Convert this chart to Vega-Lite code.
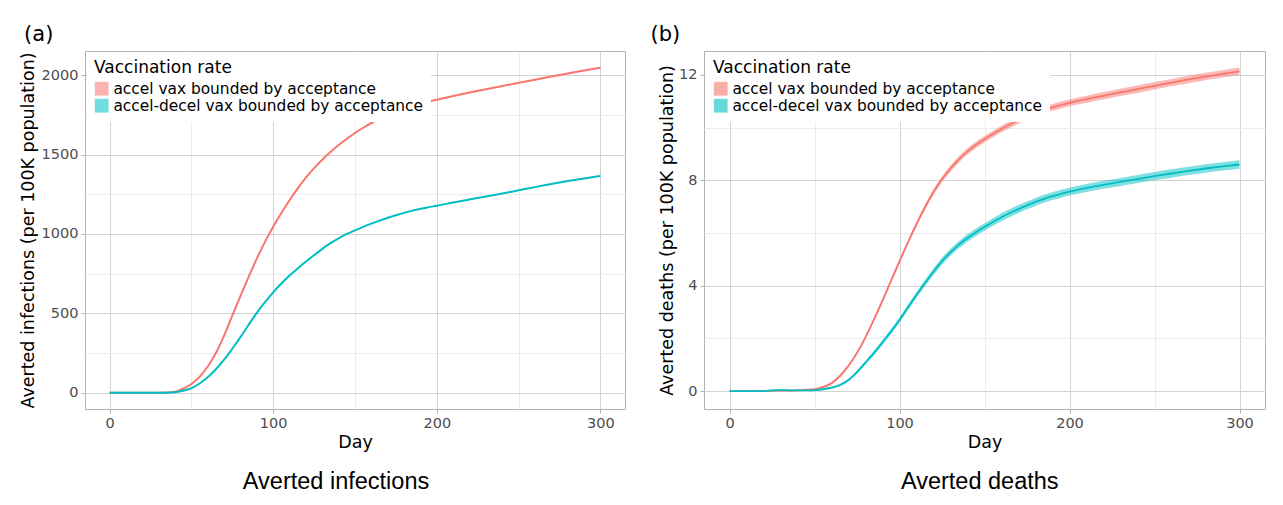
{
  "$schema": "https://vega.github.io/schema/vega-lite/v6.json",
  "background": "white",
  "padding": {"left": 18, "top": 23, "right": 5, "bottom": 5},
  "resolve": {"scale": {"color": "independent"}, "legend": {"color": "independent"}},
  "config": {
    "font": "DejaVu Sans",
    "view": {"stroke": "#b3b3b3", "strokeWidth": 1},
    "axis": {"domain": false, "labelFont": "DejaVu Sans", "labelFontSize": 14.5, "labelColor": "#4d4d4d", "titleFont": "DejaVu Sans", "titleFontSize": 17.5, "titleFontWeight": "normal", "titleColor": "#000000", "tickColor": "#b3b3b3", "tickSize": 4, "labelPadding": 3, "titlePadding": 4},
    "legend": {"orient": "top-left", "offset": 2, "fillColor": "white", "padding": 7, "title": "Vaccination rate", "titleFont": "DejaVu Sans", "titleFontSize": 17, "titleFontWeight": "normal", "titleColor": "#000000", "titlePadding": 4, "labelFont": "DejaVu Sans", "labelFontSize": 15.4, "labelColor": "#000000", "labelLimit": 450, "symbolType": "square", "symbolSize": 190, "symbolStrokeWidth": 0, "rowPadding": 0},
    "concat": {"spacing": 24}
  },
  "datasets": {
    "inf": [
      {"d":0,"s":"accel vax bounded by acceptance","v":0},{"d":5,"s":"accel vax bounded by acceptance","v":0},{"d":10,"s":"accel vax bounded by acceptance","v":0},{"d":15,"s":"accel vax bounded by acceptance","v":0},{"d":20,"s":"accel vax bounded by acceptance","v":0},{"d":25,"s":"accel vax bounded by acceptance","v":0},{"d":30,"s":"accel vax bounded by acceptance","v":0},{"d":35,"s":"accel vax bounded by acceptance","v":1},{"d":40,"s":"accel vax bounded by acceptance","v":7},{"d":45,"s":"accel vax bounded by acceptance","v":25},{"d":50,"s":"accel vax bounded by acceptance","v":55},{"d":55,"s":"accel vax bounded by acceptance","v":100},{"d":60,"s":"accel vax bounded by acceptance","v":165},{"d":65,"s":"accel vax bounded by acceptance","v":250},{"d":70,"s":"accel vax bounded by acceptance","v":360},{"d":75,"s":"accel vax bounded by acceptance","v":485},{"d":80,"s":"accel vax bounded by acceptance","v":610},{"d":85,"s":"accel vax bounded by acceptance","v":730},{"d":90,"s":"accel vax bounded by acceptance","v":845},{"d":95,"s":"accel vax bounded by acceptance","v":950},{"d":100,"s":"accel vax bounded by acceptance","v":1045},{"d":105,"s":"accel vax bounded by acceptance","v":1132},{"d":110,"s":"accel vax bounded by acceptance","v":1212},{"d":115,"s":"accel vax bounded by acceptance","v":1287},{"d":120,"s":"accel vax bounded by acceptance","v":1355},{"d":125,"s":"accel vax bounded by acceptance","v":1415},{"d":130,"s":"accel vax bounded by acceptance","v":1468},{"d":135,"s":"accel vax bounded by acceptance","v":1516},{"d":140,"s":"accel vax bounded by acceptance","v":1560},{"d":145,"s":"accel vax bounded by acceptance","v":1600},{"d":150,"s":"accel vax bounded by acceptance","v":1636},{"d":155,"s":"accel vax bounded by acceptance","v":1669},{"d":160,"s":"accel vax bounded by acceptance","v":1699},{"d":165,"s":"accel vax bounded by acceptance","v":1725},{"d":170,"s":"accel vax bounded by acceptance","v":1749},{"d":175,"s":"accel vax bounded by acceptance","v":1770},{"d":180,"s":"accel vax bounded by acceptance","v":1789},{"d":185,"s":"accel vax bounded by acceptance","v":1806},{"d":190,"s":"accel vax bounded by acceptance","v":1821},{"d":195,"s":"accel vax bounded by acceptance","v":1834},{"d":200,"s":"accel vax bounded by acceptance","v":1846},{"d":210,"s":"accel vax bounded by acceptance","v":1869},{"d":220,"s":"accel vax bounded by acceptance","v":1891},{"d":230,"s":"accel vax bounded by acceptance","v":1912},{"d":240,"s":"accel vax bounded by acceptance","v":1932},{"d":250,"s":"accel vax bounded by acceptance","v":1952},{"d":260,"s":"accel vax bounded by acceptance","v":1972},{"d":270,"s":"accel vax bounded by acceptance","v":1992},{"d":280,"s":"accel vax bounded by acceptance","v":2011},{"d":290,"s":"accel vax bounded by acceptance","v":2030},{"d":300,"s":"accel vax bounded by acceptance","v":2048},
      {"d":0,"s":"accel-decel vax bounded by acceptance","v":0},{"d":5,"s":"accel-decel vax bounded by acceptance","v":0},{"d":10,"s":"accel-decel vax bounded by acceptance","v":0},{"d":15,"s":"accel-decel vax bounded by acceptance","v":0},{"d":20,"s":"accel-decel vax bounded by acceptance","v":0},{"d":25,"s":"accel-decel vax bounded by acceptance","v":0},{"d":30,"s":"accel-decel vax bounded by acceptance","v":0},{"d":35,"s":"accel-decel vax bounded by acceptance","v":0},{"d":40,"s":"accel-decel vax bounded by acceptance","v":3},{"d":45,"s":"accel-decel vax bounded by acceptance","v":12},{"d":50,"s":"accel-decel vax bounded by acceptance","v":28},{"d":55,"s":"accel-decel vax bounded by acceptance","v":58},{"d":60,"s":"accel-decel vax bounded by acceptance","v":98},{"d":65,"s":"accel-decel vax bounded by acceptance","v":148},{"d":70,"s":"accel-decel vax bounded by acceptance","v":208},{"d":75,"s":"accel-decel vax bounded by acceptance","v":277},{"d":80,"s":"accel-decel vax bounded by acceptance","v":350},{"d":85,"s":"accel-decel vax bounded by acceptance","v":428},{"d":90,"s":"accel-decel vax bounded by acceptance","v":503},{"d":95,"s":"accel-decel vax bounded by acceptance","v":570},{"d":100,"s":"accel-decel vax bounded by acceptance","v":632},{"d":105,"s":"accel-decel vax bounded by acceptance","v":688},{"d":110,"s":"accel-decel vax bounded by acceptance","v":738},{"d":115,"s":"accel-decel vax bounded by acceptance","v":783},{"d":120,"s":"accel-decel vax bounded by acceptance","v":826},{"d":125,"s":"accel-decel vax bounded by acceptance","v":866},{"d":130,"s":"accel-decel vax bounded by acceptance","v":906},{"d":135,"s":"accel-decel vax bounded by acceptance","v":942},{"d":140,"s":"accel-decel vax bounded by acceptance","v":973},{"d":145,"s":"accel-decel vax bounded by acceptance","v":1000},{"d":150,"s":"accel-decel vax bounded by acceptance","v":1023},{"d":155,"s":"accel-decel vax bounded by acceptance","v":1045},{"d":160,"s":"accel-decel vax bounded by acceptance","v":1065},{"d":165,"s":"accel-decel vax bounded by acceptance","v":1084},{"d":170,"s":"accel-decel vax bounded by acceptance","v":1102},{"d":175,"s":"accel-decel vax bounded by acceptance","v":1118},{"d":180,"s":"accel-decel vax bounded by acceptance","v":1133},{"d":185,"s":"accel-decel vax bounded by acceptance","v":1147},{"d":190,"s":"accel-decel vax bounded by acceptance","v":1159},{"d":195,"s":"accel-decel vax bounded by acceptance","v":1169},{"d":200,"s":"accel-decel vax bounded by acceptance","v":1178},{"d":210,"s":"accel-decel vax bounded by acceptance","v":1198},{"d":220,"s":"accel-decel vax bounded by acceptance","v":1217},{"d":230,"s":"accel-decel vax bounded by acceptance","v":1236},{"d":240,"s":"accel-decel vax bounded by acceptance","v":1255},{"d":250,"s":"accel-decel vax bounded by acceptance","v":1275},{"d":260,"s":"accel-decel vax bounded by acceptance","v":1295},{"d":270,"s":"accel-decel vax bounded by acceptance","v":1315},{"d":280,"s":"accel-decel vax bounded by acceptance","v":1333},{"d":290,"s":"accel-decel vax bounded by acceptance","v":1350},{"d":300,"s":"accel-decel vax bounded by acceptance","v":1366}
    ],
    "dth": [
      {"d":0,"s":"accel vax bounded by acceptance","v":0,"l":-0.01,"h":0.01},{"d":5,"s":"accel vax bounded by acceptance","v":0,"l":-0.01,"h":0.01},{"d":10,"s":"accel vax bounded by acceptance","v":0,"l":-0.01,"h":0.01},{"d":15,"s":"accel vax bounded by acceptance","v":0,"l":-0.01,"h":0.01},{"d":20,"s":"accel vax bounded by acceptance","v":0,"l":-0.01,"h":0.01},{"d":25,"s":"accel vax bounded by acceptance","v":0.01,"l":-0.01,"h":0.03},{"d":30,"s":"accel vax bounded by acceptance","v":0.02,"l":0,"h":0.04},{"d":35,"s":"accel vax bounded by acceptance","v":0.02,"l":0,"h":0.04},{"d":40,"s":"accel vax bounded by acceptance","v":0.03,"l":0.01,"h":0.05},{"d":45,"s":"accel vax bounded by acceptance","v":0.05,"l":0.02,"h":0.08},{"d":50,"s":"accel vax bounded by acceptance","v":0.07,"l":0.04,"h":0.1},{"d":55,"s":"accel vax bounded by acceptance","v":0.15,"l":0.11,"h":0.19},{"d":60,"s":"accel vax bounded by acceptance","v":0.3,"l":0.25,"h":0.35},{"d":65,"s":"accel vax bounded by acceptance","v":0.58,"l":0.52,"h":0.64},{"d":70,"s":"accel vax bounded by acceptance","v":0.96,"l":0.9,"h":1.02},{"d":75,"s":"accel vax bounded by acceptance","v":1.45,"l":1.39,"h":1.51},{"d":80,"s":"accel vax bounded by acceptance","v":2.04,"l":1.97,"h":2.11},{"d":85,"s":"accel vax bounded by acceptance","v":2.72,"l":2.65,"h":2.79},{"d":90,"s":"accel vax bounded by acceptance","v":3.43,"l":3.35,"h":3.51},{"d":95,"s":"accel vax bounded by acceptance","v":4.18,"l":4.1,"h":4.26},{"d":100,"s":"accel vax bounded by acceptance","v":4.92,"l":4.83,"h":5.01},{"d":105,"s":"accel vax bounded by acceptance","v":5.65,"l":5.56,"h":5.74},{"d":110,"s":"accel vax bounded by acceptance","v":6.34,"l":6.24,"h":6.44},{"d":115,"s":"accel vax bounded by acceptance","v":6.98,"l":6.88,"h":7.08},{"d":120,"s":"accel vax bounded by acceptance","v":7.56,"l":7.45,"h":7.67},{"d":125,"s":"accel vax bounded by acceptance","v":8.04,"l":7.93,"h":8.15},{"d":130,"s":"accel vax bounded by acceptance","v":8.45,"l":8.33,"h":8.57},{"d":135,"s":"accel vax bounded by acceptance","v":8.8,"l":8.68,"h":8.92},{"d":140,"s":"accel vax bounded by acceptance","v":9.1,"l":8.98,"h":9.22},{"d":145,"s":"accel vax bounded by acceptance","v":9.35,"l":9.23,"h":9.47},{"d":150,"s":"accel vax bounded by acceptance","v":9.56,"l":9.44,"h":9.68},{"d":155,"s":"accel vax bounded by acceptance","v":9.76,"l":9.64,"h":9.88},{"d":160,"s":"accel vax bounded by acceptance","v":9.95,"l":9.83,"h":10.07},{"d":165,"s":"accel vax bounded by acceptance","v":10.12,"l":9.99,"h":10.25},{"d":170,"s":"accel vax bounded by acceptance","v":10.28,"l":10.15,"h":10.41},{"d":175,"s":"accel vax bounded by acceptance","v":10.42,"l":10.29,"h":10.55},{"d":180,"s":"accel vax bounded by acceptance","v":10.55,"l":10.42,"h":10.68},{"d":185,"s":"accel vax bounded by acceptance","v":10.67,"l":10.54,"h":10.8},{"d":190,"s":"accel vax bounded by acceptance","v":10.77,"l":10.64,"h":10.9},{"d":195,"s":"accel vax bounded by acceptance","v":10.86,"l":10.73,"h":10.99},{"d":200,"s":"accel vax bounded by acceptance","v":10.94,"l":10.81,"h":11.07},{"d":210,"s":"accel vax bounded by acceptance","v":11.08,"l":10.95,"h":11.21},{"d":220,"s":"accel vax bounded by acceptance","v":11.21,"l":11.07,"h":11.35},{"d":230,"s":"accel vax bounded by acceptance","v":11.34,"l":11.2,"h":11.48},{"d":240,"s":"accel vax bounded by acceptance","v":11.46,"l":11.32,"h":11.6},{"d":250,"s":"accel vax bounded by acceptance","v":11.59,"l":11.45,"h":11.73},{"d":260,"s":"accel vax bounded by acceptance","v":11.71,"l":11.57,"h":11.85},{"d":270,"s":"accel vax bounded by acceptance","v":11.83,"l":11.69,"h":11.97},{"d":280,"s":"accel vax bounded by acceptance","v":11.94,"l":11.8,"h":12.08},{"d":290,"s":"accel vax bounded by acceptance","v":12.04,"l":11.9,"h":12.18},{"d":300,"s":"accel vax bounded by acceptance","v":12.14,"l":12.0,"h":12.28},
      {"d":0,"s":"accel-decel vax bounded by acceptance","v":0,"l":-0.02,"h":0.02},{"d":5,"s":"accel-decel vax bounded by acceptance","v":0,"l":-0.02,"h":0.02},{"d":10,"s":"accel-decel vax bounded by acceptance","v":0,"l":-0.02,"h":0.02},{"d":15,"s":"accel-decel vax bounded by acceptance","v":0,"l":-0.02,"h":0.02},{"d":20,"s":"accel-decel vax bounded by acceptance","v":0,"l":-0.02,"h":0.02},{"d":25,"s":"accel-decel vax bounded by acceptance","v":0.03,"l":0,"h":0.06},{"d":30,"s":"accel-decel vax bounded by acceptance","v":0.04,"l":0.01,"h":0.07},{"d":35,"s":"accel-decel vax bounded by acceptance","v":0.03,"l":0,"h":0.06},{"d":40,"s":"accel-decel vax bounded by acceptance","v":0.03,"l":0,"h":0.06},{"d":45,"s":"accel-decel vax bounded by acceptance","v":0.03,"l":0,"h":0.06},{"d":50,"s":"accel-decel vax bounded by acceptance","v":0.04,"l":0.01,"h":0.07},{"d":55,"s":"accel-decel vax bounded by acceptance","v":0.07,"l":0.03,"h":0.11},{"d":60,"s":"accel-decel vax bounded by acceptance","v":0.13,"l":0.09,"h":0.17},{"d":65,"s":"accel-decel vax bounded by acceptance","v":0.23,"l":0.18,"h":0.28},{"d":70,"s":"accel-decel vax bounded by acceptance","v":0.42,"l":0.37,"h":0.47},{"d":75,"s":"accel-decel vax bounded by acceptance","v":0.72,"l":0.66,"h":0.78},{"d":80,"s":"accel-decel vax bounded by acceptance","v":1.08,"l":1.01,"h":1.15},{"d":85,"s":"accel-decel vax bounded by acceptance","v":1.45,"l":1.37,"h":1.53},{"d":90,"s":"accel-decel vax bounded by acceptance","v":1.85,"l":1.76,"h":1.94},{"d":95,"s":"accel-decel vax bounded by acceptance","v":2.26,"l":2.16,"h":2.36},{"d":100,"s":"accel-decel vax bounded by acceptance","v":2.7,"l":2.6,"h":2.8},{"d":105,"s":"accel-decel vax bounded by acceptance","v":3.18,"l":3.07,"h":3.29},{"d":110,"s":"accel-decel vax bounded by acceptance","v":3.65,"l":3.54,"h":3.76},{"d":115,"s":"accel-decel vax bounded by acceptance","v":4.1,"l":3.98,"h":4.22},{"d":120,"s":"accel-decel vax bounded by acceptance","v":4.53,"l":4.41,"h":4.65},{"d":125,"s":"accel-decel vax bounded by acceptance","v":4.93,"l":4.8,"h":5.06},{"d":130,"s":"accel-decel vax bounded by acceptance","v":5.27,"l":5.14,"h":5.4},{"d":135,"s":"accel-decel vax bounded by acceptance","v":5.56,"l":5.42,"h":5.7},{"d":140,"s":"accel-decel vax bounded by acceptance","v":5.81,"l":5.67,"h":5.95},{"d":145,"s":"accel-decel vax bounded by acceptance","v":6.03,"l":5.89,"h":6.17},{"d":150,"s":"accel-decel vax bounded by acceptance","v":6.23,"l":6.09,"h":6.37},{"d":155,"s":"accel-decel vax bounded by acceptance","v":6.42,"l":6.28,"h":6.56},{"d":160,"s":"accel-decel vax bounded by acceptance","v":6.6,"l":6.45,"h":6.75},{"d":165,"s":"accel-decel vax bounded by acceptance","v":6.76,"l":6.61,"h":6.91},{"d":170,"s":"accel-decel vax bounded by acceptance","v":6.91,"l":6.76,"h":7.06},{"d":175,"s":"accel-decel vax bounded by acceptance","v":7.05,"l":6.9,"h":7.2},{"d":180,"s":"accel-decel vax bounded by acceptance","v":7.18,"l":7.03,"h":7.33},{"d":185,"s":"accel-decel vax bounded by acceptance","v":7.3,"l":7.15,"h":7.45},{"d":190,"s":"accel-decel vax bounded by acceptance","v":7.4,"l":7.25,"h":7.55},{"d":195,"s":"accel-decel vax bounded by acceptance","v":7.49,"l":7.34,"h":7.64},{"d":200,"s":"accel-decel vax bounded by acceptance","v":7.57,"l":7.42,"h":7.72},{"d":210,"s":"accel-decel vax bounded by acceptance","v":7.71,"l":7.56,"h":7.86},{"d":220,"s":"accel-decel vax bounded by acceptance","v":7.83,"l":7.68,"h":7.98},{"d":230,"s":"accel-decel vax bounded by acceptance","v":7.94,"l":7.79,"h":8.09},{"d":240,"s":"accel-decel vax bounded by acceptance","v":8.05,"l":7.9,"h":8.2},{"d":250,"s":"accel-decel vax bounded by acceptance","v":8.16,"l":8.0,"h":8.32},{"d":260,"s":"accel-decel vax bounded by acceptance","v":8.26,"l":8.1,"h":8.42},{"d":270,"s":"accel-decel vax bounded by acceptance","v":8.36,"l":8.2,"h":8.52},{"d":280,"s":"accel-decel vax bounded by acceptance","v":8.45,"l":8.29,"h":8.61},{"d":290,"s":"accel-decel vax bounded by acceptance","v":8.53,"l":8.37,"h":8.69},{"d":300,"s":"accel-decel vax bounded by acceptance","v":8.6,"l":8.44,"h":8.76}
    ]
  },
  "hconcat": [
    {
      "title": {"text": "Averted infections", "orient": "bottom", "anchor": "middle", "font": "Liberation Sans", "fontSize": 23.5, "fontWeight": "normal", "color": "#000000", "offset": 18, "dx": 14},
      "vconcat": [
        {
          "width": 540,
          "height": 358,
          "title": {"text": "(a)", "anchor": "start", "frame": "bounds", "font": "DejaVu Sans", "fontSize": 21, "fontWeight": "normal", "color": "#000000", "offset": 6, "dx": 5},
          "data": {"name": "inf"},
          "mark": {"type": "line", "strokeWidth": 2, "interpolate": "monotone"},
          "encoding": {
            "x": {"field": "d", "type": "quantitative", "title": "Day", "scale": {"domain": [-15, 315], "nice": false, "zero": false},
              "axis": {"values": [0, 50, 100, 150, 200, 250, 300], "labelExpr": "datum.value % 100 === 0 ? datum.label : ''",
                "gridColor": {"condition": {"test": "datum.value % 100 !== 0", "value": "#ececec"}, "value": "#d3d3d3"},
                "tickOpacity": {"condition": {"test": "datum.value % 100 !== 0", "value": 0}, "value": 1}}},
            "y": {"field": "v", "type": "quantitative", "title": "Averted infections (per 100K population)", "scale": {"domain": [-102.5, 2152.5], "nice": false, "zero": false},
              "axis": {"values": [0, 250, 500, 750, 1000, 1250, 1500, 1750, 2000], "labelExpr": "datum.value % 500 === 0 ? datum.label : ''", "format": "d",
                "gridColor": {"condition": {"test": "datum.value % 500 !== 0", "value": "#ececec"}, "value": "#d3d3d3"},
                "tickOpacity": {"condition": {"test": "datum.value % 500 !== 0", "value": 0}, "value": 1}}},
            "color": {"field": "s", "type": "nominal", "scale": {"domain": ["accel vax bounded by acceptance", "accel-decel vax bounded by acceptance"], "range": ["#F8766D", "#00BFC4"]},
              "legend": {"title": "Vaccination rate", "encode": {"symbols": {"update": {"fill": {"signal": "datum.value === 'accel vax bounded by acceptance' ? '#F8766D' : '#00BFC4'"}, "fillOpacity": {"value": 0.55}, "strokeWidth": {"value": 0}}}}}}
          }
        }
      ]
    },
    {
      "title": {"text": "Averted deaths", "orient": "bottom", "anchor": "middle", "font": "Liberation Sans", "fontSize": 23.5, "fontWeight": "normal", "color": "#000000", "offset": 18, "dx": 22},
      "vconcat": [
        {
          "width": 561,
          "height": 358,
          "title": {"text": "(b)", "anchor": "start", "frame": "bounds", "font": "DejaVu Sans", "fontSize": 21, "fontWeight": "normal", "color": "#000000", "offset": 6, "dx": -8},
          "data": {"name": "dth"},
          "encoding": {
            "x": {"field": "d", "type": "quantitative", "title": "Day", "scale": {"domain": [-15, 315], "nice": false, "zero": false},
              "axis": {"values": [0, 50, 100, 150, 200, 250, 300], "labelExpr": "datum.value % 100 === 0 ? datum.label : ''",
                "gridColor": {"condition": {"test": "datum.value % 100 !== 0", "value": "#ececec"}, "value": "#d3d3d3"},
                "tickOpacity": {"condition": {"test": "datum.value % 100 !== 0", "value": 0}, "value": 1}}},
            "color": {"field": "s", "type": "nominal", "scale": {"domain": ["accel vax bounded by acceptance", "accel-decel vax bounded by acceptance"], "range": ["#F8766D", "#00BFC4"]},
              "legend": {"title": "Vaccination rate", "encode": {"symbols": {"update": {"fill": {"signal": "datum.value === 'accel vax bounded by acceptance' ? '#F8766D' : '#00BFC4'"}, "fillOpacity": {"value": 0.6}, "opacity": {"value": 1}, "strokeWidth": {"value": 0}}}}}}
          },
          "layer": [
            {
              "mark": {"type": "area", "opacity": 0.5, "interpolate": "monotone"},
              "encoding": {
                "y": {"field": "l", "type": "quantitative", "title": "Averted deaths (per 100K population)", "scale": {"domain": [-0.68, 12.91], "nice": false, "zero": false},
                  "axis": {"values": [0, 2, 4, 6, 8, 10, 12], "labelExpr": "datum.value % 4 === 0 ? datum.label : ''", "titlePadding": 2,
                    "gridColor": {"condition": {"test": "datum.value % 4 !== 0", "value": "#ececec"}, "value": "#d3d3d3"},
                    "tickOpacity": {"condition": {"test": "datum.value % 4 !== 0", "value": 0}, "value": 1}}},
                "y2": {"field": "h"}
              }
            },
            {
              "mark": {"type": "line", "strokeWidth": 1.8, "interpolate": "monotone"},
              "encoding": {
                "y": {"field": "v", "type": "quantitative"}
              }
            }
          ]
        }
      ]
    }
  ]
}
